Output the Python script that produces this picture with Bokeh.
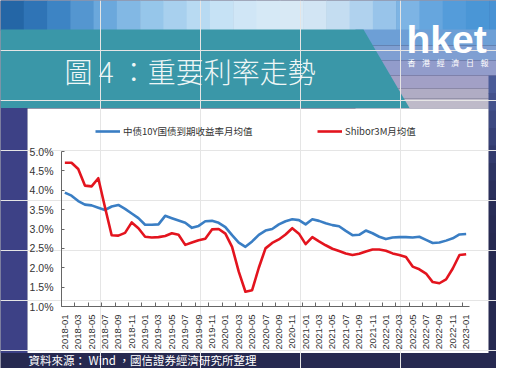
from bokeh.plotting import figure
from bokeh.models import (Range1d, FixedTicker, PrintfTickFormatter, LinearAxis,
                          Legend, LegendItem)
from bokeh.core.properties import value
from bokeh.embed import file_html
from bokeh.resources import INLINE

# ---------------- data ----------------
months = [f"{y}-{m:02d}" for y in range(2018, 2024) for m in range(1, 13)][:61]

cgb10y = [3.94, 3.86, 3.72, 3.63, 3.61, 3.55, 3.49, 3.58, 3.62, 3.52,
          3.40, 3.28, 3.11, 3.11, 3.12, 3.34, 3.28, 3.22, 3.16, 3.03,
          3.08, 3.20, 3.21, 3.16, 3.05, 2.84, 2.65, 2.54, 2.68, 2.85,
          2.96, 3.00, 3.12, 3.20, 3.25, 3.23, 3.12, 3.25, 3.21, 3.15,
          3.10, 3.07, 2.95, 2.84, 2.85, 2.96, 2.89, 2.80, 2.74, 2.78,
          2.79, 2.79, 2.78, 2.80, 2.72, 2.64, 2.65, 2.70, 2.76, 2.86,
          2.87]

shibor3m = [4.71, 4.71, 4.55, 4.12, 4.10, 4.31, 3.56, 2.84, 2.83, 2.90,
            3.17, 3.02, 2.80, 2.78, 2.79, 2.82, 2.89, 2.85, 2.59, 2.65,
            2.71, 2.75, 2.99, 3.00, 2.88, 2.54, 1.90, 1.38, 1.42, 2.00,
            2.50, 2.64, 2.73, 2.86, 3.02, 2.88, 2.61, 2.79, 2.68, 2.58,
            2.49, 2.43, 2.37, 2.33, 2.36, 2.42, 2.47, 2.47, 2.44, 2.37,
            2.33, 2.28, 2.03, 1.96, 1.85, 1.63, 1.60, 1.70, 1.98, 2.33,
            2.35]

y_ticks = [1.0, 1.5, 2.0, 2.5, 3.0, 3.5, 4.0, 4.5, 5.0]
series_names = ["中债10Y国债到期收益率月均值", "Shibor3M月均值"]
title_text = "圖 4 ：重要利率走勢"
source_text = "資料來源： Wind ，國信證券經濟研究所整理"
logo_text = "hket"
logo_sub = ["香", "港", "經", "濟", "日", "報"]

x_idx = list(range(len(months)))
n = len(months)

# ---------------- geometry (pixel coords of the picture) ----------------
CX0, CX1, CY0, CY1 = 0, 496, 0, 368           # canvas area
FX0, FX1 = 61, 469                            # x = -0.5 .. n-0.5
FY0, FY1 = 306, 151                           # y = 1.0 .. 5.0
ymin, ymax = y_ticks[0], y_ticks[-1]
xpp = (FX1 - FX0) / n
ypp = (FY0 - FY1) / (ymax - ymin)
PANEL_BOTTOM = 352.5

p = figure(width=CX1 - CX0, height=CY1 - CY0, output_backend="svg",
           toolbar_location=None, title=None,
           x_axis_location=None, y_axis_location=None,
           x_range=Range1d(CX0, CX1), y_range=Range1d(CY1, CY0),
           min_border=0)
p.extra_x_ranges = {"dx": Range1d(-0.5 - (FX0 - CX0) / xpp, n - 0.5 + (CX1 - FX1) / xpp)}
p.extra_y_ranges = {"dy": Range1d(ymin - (CY1 - FY0) / ypp, ymax + (FY1 - CY0) / ypp)}
p.background_fill_color = "#262950"
p.border_fill_color = "#262950"
p.outline_line_color = None

# ---------------- decorations ----------------
top_cols = ["#2466a6", "#2f74b6", "#3d84c4", "#5496d0", "#6ba8dc", "#82b8e4",
            "#96c6ea", "#a8d0ee", "#b8daf2", "#c6e2f5", "#d0e6f6", "#d6e9f6",
            "#d8e9f5", "#d2e5f4", "#c4ddf1", "#b0d2ee", "#98c4ea", "#7db4e4",
            "#66a6de", "#549cda", "#4a96d6", "#4892d4"]
cw = 512 / len(top_cols)
p.quad(left=[i * cw for i in range(len(top_cols))],
       right=[(i + 1) * cw + 0.6 for i in range(len(top_cols))],
       top=[0] * len(top_cols), bottom=[30] * len(top_cols),
       fill_color=top_cols, line_color=None, level="image")

right_rows = [(29, 45, "#6d9fd6"), (45, 60, "#7f9fd2"), (60, 75, "#929ccb"),
              (75, 88, "#a2a0c6"), (88, 98, "#b0acc4"), (98, 108, "#bebac9")]
p.quad(left=[355] * len(right_rows), right=[512] * len(right_rows),
       top=[r[0] for r in right_rows], bottom=[r[1] for r in right_rows],
       fill_color=[r[2] for r in right_rows], line_color=None, level="image")

strip = ["#4a5b98", "#44528c", "#3d4981", "#374177", "#323a6d", "#2d3463",
         "#2a2f5b", "#282c56", "#272a53", "#262950"]
sh = (250 - 75) / len(strip)
p.quad(left=[488] * len(strip), right=[512] * len(strip),
       top=[75 + i * sh for i in range(len(strip))],
       bottom=[75 + (i + 1) * sh + 0.6 for i in range(len(strip))],
       fill_color=strip, line_color=None, level="image")

p.quad(left=[0], right=[27], top=[100], bottom=[PANEL_BOTTOM], fill_color="#3d4186",
       line_color=None, level="image")
p.patch(x=[0, 363, 409, 0], y=[29, 29, 107.5, 107.5], fill_color="#3a97a8",
        line_color=None, level="image")
p.quad(left=[27], right=[488], top=[108], bottom=[PANEL_BOTTOM], fill_color="#ffffff",
       line_color=None, level="image")

# ---------------- series ----------------
r_blue = p.line(x_idx, cgb10y, line_color="#3a7ec4", line_width=2.6,
                line_join="round", x_range_name="dx", y_range_name="dy")
r_red = p.line(x_idx, shibor3m, line_color="#e3141e", line_width=2.6,
               line_join="round", x_range_name="dx", y_range_name="dy")

# ---------------- axes ----------------
even = [i for i in x_idx if i % 2 == 0]
xa = LinearAxis(x_range_name="dx", y_range_name="dy", fixed_location=ymin,
                bounds=(-0.5, n - 0.5))
xa.ticker = FixedTicker(ticks=even, minor_ticks=[i - 0.5 for i in even])
xa.major_label_overrides = {i: months[i] for i in even}
xa.major_label_orientation = 3.14159265 / 2
xa.major_tick_in = 0
xa.major_tick_out = 0
xa.minor_tick_in = 4
xa.minor_tick_out = 0
xa.major_label_standoff = 8
xa.major_label_text_font = "Liberation Sans"
xa.major_label_text_font_size = "9.5px"
xa.major_label_text_color = "#333333"
xa.axis_line_color = "#666666"
xa.minor_tick_line_color = "#666666"
p.add_layout(xa, "below")

ya = LinearAxis(x_range_name="dx", y_range_name="dy", fixed_location=-0.5,
                bounds=(ymin, ymax))
ya.ticker = FixedTicker(ticks=y_ticks)
ya.formatter = PrintfTickFormatter(format="%.1f%%")
ya.major_tick_in = 3
ya.major_tick_out = 0
ya.minor_tick_in = 0
ya.minor_tick_out = 0
ya.major_label_standoff = 8
ya.major_label_text_font = "Liberation Sans"
ya.major_label_text_font_size = "10.5px"
ya.major_label_text_color = "#333333"
ya.axis_line_color = "#666666"
ya.major_tick_line_color = "#666666"
p.add_layout(ya, "left")

# ---------------- legends ----------------
for name, rend, gx in [(series_names[0], r_blue, 95), (series_names[1], r_red, 317)]:
    lg = Legend(items=[LegendItem(label=name, renderers=[rend])],
                location=(gx - CX0, CY1 - 138),
                orientation="horizontal", background_fill_alpha=0,
                border_line_color=None, padding=0, margin=0, spacing=0,
                glyph_width=25, glyph_height=12, label_height=12,
                label_standoff=3, label_text_font="Noto Sans CJK SC",
                label_text_font_size="9.5px", label_text_color="#333333")
    p.add_layout(lg)

# ---------------- texts ----------------
p.text(x=[64], y=[70], text=[title_text],
       text_font=value("Noto Sans CJK TC Light, Noto Sans CJK TC"),
       text_font_size="28px", text_color="#eef6f6", text_baseline="middle",
       text_align="left")
p.text(x=[406], y=[39], text=[logo_text], text_font=value("Liberation Sans"),
       text_font_style="bold", text_font_size="39px", text_color="#ffffff",
       text_baseline="middle", text_align="left")
p.text(x=[411 + i * 14.6 for i in range(len(logo_sub))], y=[62] * len(logo_sub),
       text=logo_sub, text_font=value("Noto Sans CJK TC"), text_font_size="8px",
       text_color="#ffffff", text_baseline="middle", text_align="center")
p.text(x=[28], y=[359], text=[source_text], text_font=value("Noto Sans CJK TC"),
       text_font_size="11.5px", text_color="#ffffff", text_baseline="middle",
       text_align="left")

open("out.html", "w").write(file_html(p, INLINE))
